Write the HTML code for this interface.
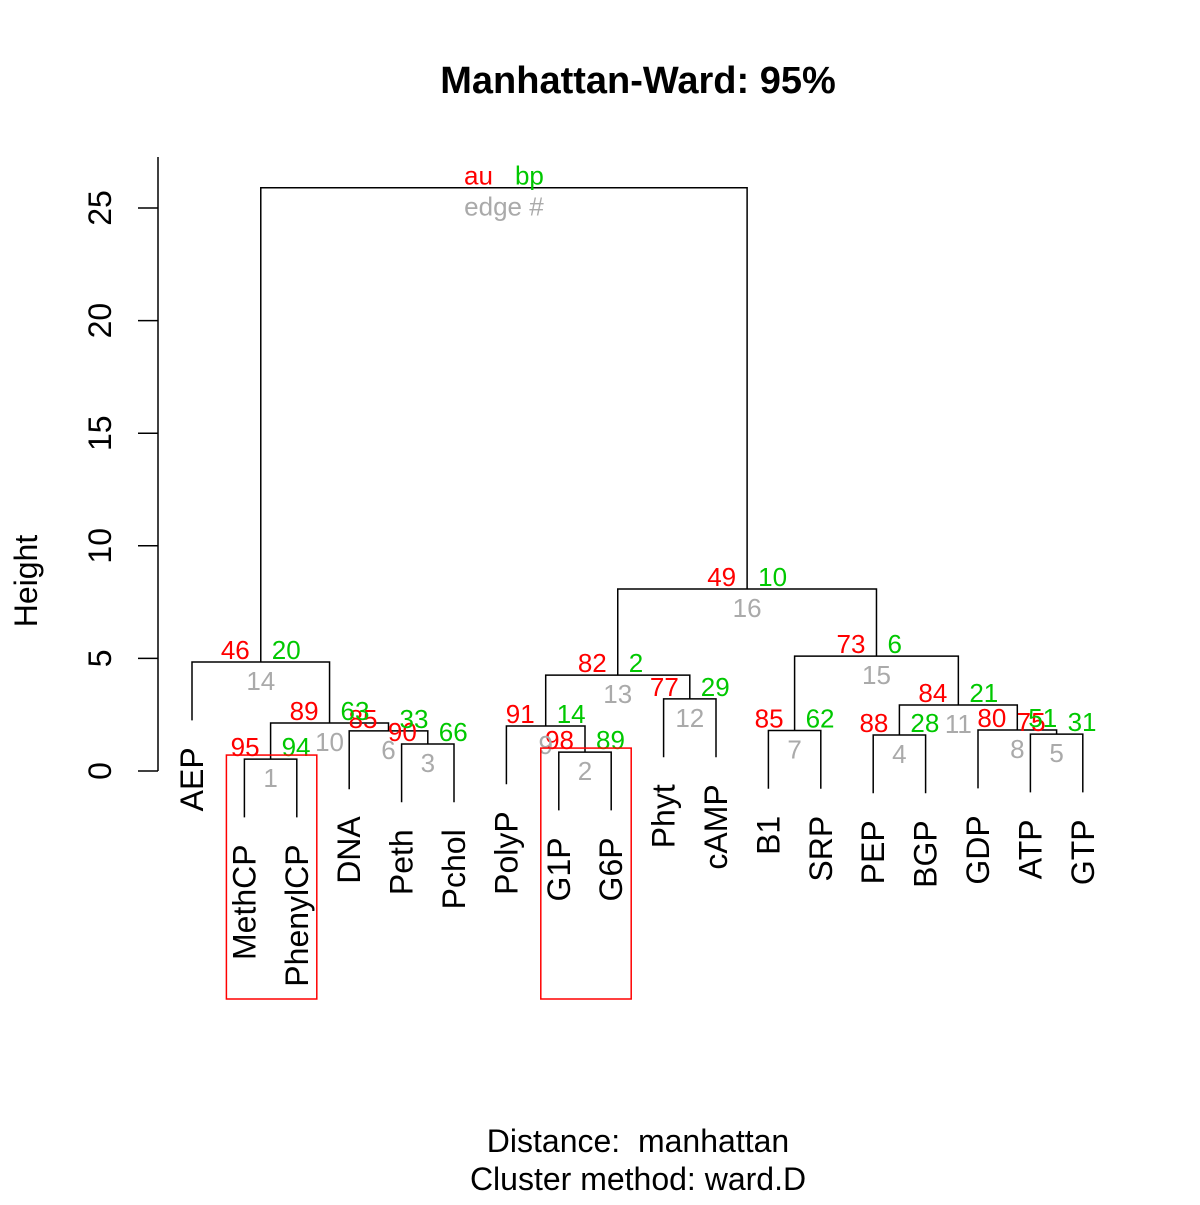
<!DOCTYPE html>
<html><head><meta charset="utf-8"><style>
body{margin:0;background:#fff}
svg text{font-family:"Liberation Sans",Arial,sans-serif;white-space:pre}
</style></head><body>
<svg id="chart" width="1200" height="1200" xmlns="http://www.w3.org/2000/svg">
<rect width="1200" height="1200" fill="#fff"/>
<text x="638" y="93" font-size="38" font-weight="bold" text-anchor="middle">Manhattan-Ward: 95%</text>
<text x="638" y="1152" font-size="32" text-anchor="middle">Distance:  manhattan</text>
<text x="638" y="1190" font-size="32" text-anchor="middle">Cluster method: ward.D</text>
<text transform="translate(37,581) rotate(-90)" font-size="32" text-anchor="middle">Height</text>
<g id="axis"></g>
<g id="tree"></g>
<g id="labels"></g>
<g id="leaves"></g>
<g id="boxes"></g>
</svg>
<script>
const leafNames=["AEP","MethCP","PhenylCP","DNA","Peth","Pchol","PolyP","G1P","G6P","Phyt","cAMP","B1","SRP","PEP","BGP","GDP","ATP","GTP"];
const mergeLeft=[-2,-8,-5,-14,-17,-4,-12,-16,-7,1,4,-10,9,-1,7,13,14];
const mergeRight=[-3,-9,-6,-15,-18,3,-13,5,2,6,8,-11,12,10,11,15,16];
const heights=[0.53,0.84,1.2,1.6,1.64,1.78,1.8,1.82,2.0,2.13,2.93,3.2,4.26,4.84,5.1,8.08,25.9];
const auValues=[95,98,90,88,75,85,85,80,91,89,84,77,82,46,73,49];
const bpValues=[94,89,66,28,31,33,62,51,14,63,21,29,2,20,6,10];
const yTicks=[0,5,10,15,20,25];
const highlighted=[1,2];
const NS="http://www.w3.org/2000/svg";
const y0=771,ppu=22.52,x0=192,dx=52.4,hang=2.59;
const Y=v=>y0-v*ppu, X=i=>x0+i*dx;
function mk(tag,attrs,parent,txt){const e=document.createElementNS(NS,tag);for(const k in attrs)e.setAttribute(k,attrs[k]);if(txt!==undefined)e.textContent=txt;document.getElementById(parent).appendChild(e);return e;}
let ax=mk('line',{x1:158,x2:158,y1:157,y2:y0,stroke:'#000','stroke-width':1.5},'axis');


yTicks.forEach(t=>{
 let l=mk('line',{x1:138,x2:158,y1:Y(t),y2:Y(t),stroke:'#000','stroke-width':1.5},'axis');
 
 
 let tx=mk('text',{transform:`translate(111,${Y(t)}) rotate(-90)`,'font-size':32,'text-anchor':'middle'},'axis',String(t));
 
 
});
const nodeX=[],nodeMin=[],nodeMax=[];
function info(c){return c<0?{x:X(-c-1),mn:-c-1,mx:-c-1}:{x:nodeX[c-1],mn:nodeMin[c-1],mx:nodeMax[c-1]};}
heights.forEach((h,k)=>{
 const a=info(mergeLeft[k]),b=info(mergeRight[k]);
 nodeX[k]=(a.x+b.x)/2;nodeMin[k]=Math.min(a.mn,b.mn);nodeMax[k]=Math.max(a.mx,b.mx);
 const yh=Y(h);
 const ya=mergeLeft[k]<0?Y(h-hang):Y(heights[mergeLeft[k]-1]);
 const yb=mergeRight[k]<0?Y(h-hang):Y(heights[mergeRight[k]-1]);
 let p=mk('path',{d:`M${a.x},${ya}V${yh}H${b.x}V${yb}`,fill:'none',stroke:'#000','stroke-width':1.5},'tree');
 
 
 [[mergeLeft[k],a],[mergeRight[k],b]].forEach(([c,inf])=>{
  if(c<0){
   let t=mk('text',{transform:`translate(${inf.x+11},${Y(h-hang)+27}) rotate(-90)`,'font-size':32,'text-anchor':'end'},'leaves',leafNames[-c-1]);
   
   
  }
 });
 const last=k===heights.length-1;
 let au=mk('text',{x:nodeX[k]-11,y:yh-3,'font-size':26,fill:'#ff0000','text-anchor':'end'},'labels',last?'au':String(auValues[k]));
 
 
 let bp=mk('text',{x:nodeX[k]+11,y:yh-3,'font-size':26,fill:'#00c800','text-anchor':'start'},'labels',last?'bp':String(bpValues[k]));
 
 
 let ed=mk('text',{x:nodeX[k],y:yh+28,'font-size':26,fill:'#aaaaaa','text-anchor':'middle'},'labels',last?'edge #':String(k+1));
 
 
});
highlighted.forEach(e=>{
 const k=e-1;const l=X(nodeMin[k])-18,r=X(nodeMax[k])+20,t=Y(heights[k])-4;
 let b=mk('rect',{x:l,y:t,width:r-l,height:999-t,fill:'none',stroke:'#ff0000','stroke-width':1.5},'boxes');
 
 
});
</script>
</body></html>
